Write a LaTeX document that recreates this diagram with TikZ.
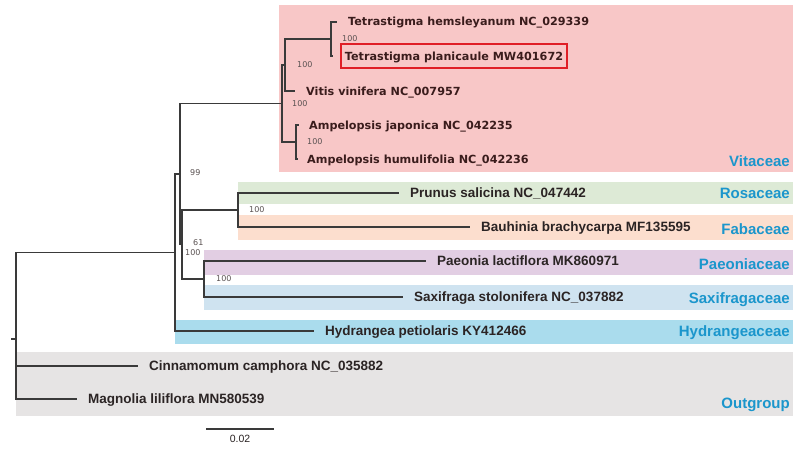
\documentclass[tikz,border=0pt]{standalone}
\usepackage{fontspec}
\setmainfont{Liberation Sans}
\newfontfamily\widesans{DejaVu Sans}
\usetikzlibrary{positioning}
\definecolor{branchgrey}{HTML}{3A3A3A}
\definecolor{taxontext}{HTML}{2B2424}
\definecolor{vitext}{HTML}{3A1C1C}
\definecolor{supportgrey}{HTML}{5A5252}
\definecolor{familyblue}{HTML}{1B96CC}
\definecolor{boxred}{HTML}{E01E26}
\definecolor{vitpink}{HTML}{F8C7C7}
\definecolor{rosgreen}{HTML}{DDEAD6}
\definecolor{fabpeach}{HTML}{FCDECE}
\definecolor{paelilac}{HTML}{E2CEE3}
\definecolor{saxblue}{HTML}{CFE3F0}
\definecolor{hydblue}{HTML}{AADCED}
\definecolor{outgrey}{HTML}{E6E4E4}

\begin{document}
\begin{tikzpicture}[x=1pt, y=-1pt,
  branch/.style={draw=branchgrey, line width=1.1pt},
  elbow/.style={to path={|- (\tikztotarget)}},
  taxon/.style={inner sep=0pt, text height=9.7pt, text depth=0pt, text=taxontext,
    font=\fontsize{13.5}{15}\selectfont\bfseries},
  vitaxon/.style={taxon, text height=8pt, text=vitext,
    font=\widesans\fontsize{11.2}{13}\selectfont\bfseries},
  support/.style={inner sep=0pt, text=supportgrey, font=\widesans\fontsize{8}{9}\selectfont},
  family/.style={anchor=base east, inner sep=0pt, text=familyblue,
    font=\fontsize{15}{17}\selectfont\bfseries},
  node distance=11pt
]
\useasboundingbox (0,0) rectangle (800,452);
\fill[white] (0,0) rectangle (800,452);

% family bands
\fill[vitpink]  (279,5)   rectangle (793,172);
\fill[rosgreen] (238,182) rectangle (793,204);
\fill[fabpeach] (238,215) rectangle (793,240);
\fill[paelilac] (204,250) rectangle (793,275);
\fill[saxblue]  (204,285) rectangle (793,310);
\fill[hydblue]  (175,320) rectangle (793,344);
\fill[outgrey]  (16,352)  rectangle (793,416);

% internal nodes
\coordinate (root) at (16,339);
\coordinate (rootstub) at (11,339);
\coordinate (nA) at (175,252.5);
\coordinate (nB) at (180,174);
\coordinate (nD) at (182,244.5);
\coordinate (nE) at (238,210);
\coordinate (nF) at (204,279);
\coordinate (nV) at (282,103.5);
\coordinate (nT) at (285,65);
\coordinate (nP) at (331,39);
\coordinate (nAm) at (296,142);

% tips
\coordinate (hem) at (337,22);
\coordinate (pla) at (333,56);
\coordinate (vit) at (295,91);
\coordinate (jap) at (299,125);
\coordinate (hum) at (298,159);
\coordinate (pru) at (399,193);
\coordinate (bau) at (470,227);
\coordinate (pae) at (426,261);
\coordinate (sax) at (403,297);
\coordinate (hyd) at (314,331);
\coordinate (cin) at (138,366);
\coordinate (mag) at (77,399);

\node[vitaxon, right=of hem] (hem-l) {Tetrastigma hemsleyanum NC\_029339};
\node[vitaxon, right=7pt of pla, draw=boxred, line width=1.8pt, inner xsep=4pt, inner ysep=8pt] (pla-l) {Tetrastigma planicaule MW401672};
\node[vitaxon, right=of vit] (vit-l) {Vitis vinifera NC\_007957};
\node[vitaxon, right=10pt of jap] (jap-l) {Ampelopsis japonica NC\_042235};
\node[vitaxon, right=9pt of hum] (hum-l) {Ampelopsis humulifolia NC\_042236};
\node[taxon, right=of pru] (pru-l) {Prunus salicina NC\_047442};
\node[taxon, right=of bau] (bau-l) {Bauhinia brachycarpa MF135595};
\node[taxon, right=of pae] (pae-l) {Paeonia lactiflora MK860971};
\node[taxon, right=of sax] (sax-l) {Saxifraga stolonifera NC\_037882};
\node[taxon, right=of hyd] (hyd-l) {Hydrangea petiolaris KY412466};
\node[taxon, right=of cin] (cin-l) {Cinnamomum camphora NC\_035882};
\node[taxon, right=of mag] (mag-l) {Magnolia liliflora MN580539};

% branches
\path[branch]
  (root) edge (rootstub)
         edge[elbow] (nA)
         edge[elbow] (cin)
         edge[elbow] (mag)
  (nA) edge[elbow] (nB)
       edge[elbow] (hyd)
  (nB) edge[elbow] (nV)
       edge[elbow] (nD)
  (nD) edge[elbow] (nE)
       edge[elbow] (nF)
  (nE) edge[elbow] (pru)
       edge[elbow] (bau)
  (nF) edge[elbow] (pae)
       edge[elbow] (sax)
  (nV) edge[elbow] (nT)
       edge[elbow] (nAm)
  (nT) edge[elbow] (nP)
       edge[elbow] (vit)
  (nP) edge[elbow] (hem)
       edge[elbow] (pla)
  (nAm) edge[elbow] (jap)
        edge[elbow] (hum)
  ;

% support values
\node[support, right=11pt of nP] (sP) {100};
\node[support, right=12pt of nT] (sT) {100};
\node[support, right=10pt of nV] (sV) {100};
\node[support, right=11pt of nAm] (sAm) {100};
\node[support, right=10pt of nB, yshift=1pt] (sB) {99};
\node[support, right=11pt of nE] (sE) {100};
\node[support, right=11pt of nD, yshift=2pt] (sD) {61};
\node[support, right=10pt of nA] (sA) {100};
\node[support, right=12pt of nF] (sF) {100};

% family names
\node[family] (fvit) at (790,166) {Vitaceae};
\node[family] (fros) at (790,198) {Rosaceae};
\node[family] (ffab) at (790,234) {Fabaceae};
\node[family] (fpae) at (790,269) {Paeoniaceae};
\node[family] (fsax) at (790,303) {Saxifragaceae};
\node[family] (fhyd) at (790,336) {Hydrangeaceae};
\node[family] (fout) at (790,408) {Outgroup};

% scale bar
\coordinate (sbl) at (206,429);
\coordinate (sbr) at (274,429);
\draw[branch] (sbl) -- (sbr)
  node[midway, below=6pt, inner sep=0pt, text=taxontext, font=\fontsize{10.5}{12}\selectfont] (sblab) {0.02};
\end{tikzpicture}
\end{document}
